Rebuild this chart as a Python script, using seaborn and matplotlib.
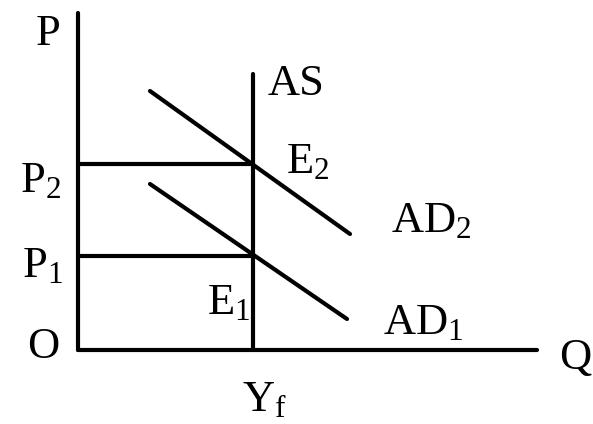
import matplotlib
matplotlib.use("Agg")
import matplotlib.pyplot as plt
import seaborn as sns
import pandas as pd
from matplotlib import font_manager

# levels (origin at O)
yf = 175
p1 = 94
p2 = 186
q_max = 459
p_max = 337
as_top = 276

# aggregate demand curves: two end points each
ad2_q = [72, 272]
ad2_p = [259, 116]
ad1_q = [72, 269]
ad1_p = [166, 31]

sns.set_theme(style="white")
names = sorted({f.name for f in font_manager.fontManager.ttflist})
serif = "Liberation Serif" if "Liberation Serif" in names else "DejaVu Serif"
plt.rcParams["font.family"] = [serif]
plt.rcParams["mathtext.fontset"] = "custom"
plt.rcParams["mathtext.rm"] = serif
plt.rcParams["mathtext.it"] = serif

fig = plt.figure(figsize=(5.93, 4.24), dpi=100)
ax = fig.add_axes([0, 0, 1, 1])

lines = {
    "p_axis": ([0, 0], [0, p_max]),
    "q_axis": ([0, q_max], [0, 0]),
    "AS": ([yf, yf], [0, as_top]),
    "P2": ([0, yf], [p2, p2]),
    "P1": ([0, yf], [p1, p1]),
    "AD2": (ad2_q, ad2_p),
    "AD1": (ad1_q, ad1_p),
}
for name, (q, p) in lines.items():
    df = pd.DataFrame({"Q": q, "P": p})
    sns.lineplot(data=df, x="Q", y="P", ax=ax, color="black", lw=3,
                 estimator=None, sort=False)

fs = 32
lab = dict(color="black", fontsize=fs, ha="center", va="center")
ax.text(-30, 316, "P", **lab)
ax.text(-38, 169, r"P$_\mathrm{2}$", **lab)
ax.text(-36, 84, r"P$_\mathrm{1}$", **lab)
ax.text(-35, 3, "O", **lab)
ax.text(218, 266, "AS", **lab)
ax.text(230, 188, r"E$_\mathrm{2}$", **lab)
ax.text(353, 129, r"AD$_\mathrm{2}$", **lab)
ax.text(151, 47, r"E$_\mathrm{1}$", **lab)
ax.text(345, 27, r"AD$_\mathrm{1}$", **lab)
ax.text(186, -50, r"Y$_\mathrm{f}$", **lab)
ax.text(497, -8, "Q", **lab)

ax.set_xlim(-78, 515)
ax.set_ylim(-74, 350)
ax.set_axis_off()

fig.savefig("out.png", dpi=100)
